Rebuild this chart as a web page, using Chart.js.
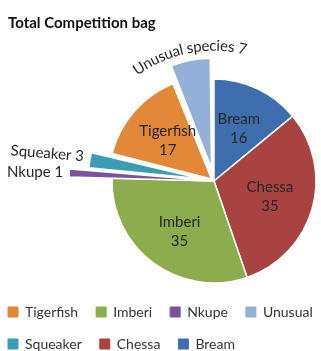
<!DOCTYPE html>
<html>
<head>
<meta charset="utf-8">
<script src="https://cdn.jsdelivr.net/npm/chart.js@4.4.1/dist/chart.umd.min.js"></script>
<style>
  html, body { margin: 0; padding: 0; background: #fff; }
  #wrap { position: relative; width: 321px; height: 351px; }
</style>
</head>
<body>
<div id="wrap"><canvas id="chart"></canvas></div>
<script>
// slices, clockwise from 12 o'clock
const species = ["Bream", "Chessa", "Imberi", "Nkupe", "Squeaker", "Tigerfish", "Unusual"];
const catchCounts = [16, 35, 35, 1, 3, 17, 7];
const sliceText = ["Bream", "Chessa", "Imberi", "Nkupe", "Squeaker", "Tigerfish", "Unusual species"];
// legend reads in a different order than the slices
const legendOrder = ["Tigerfish", "Imberi", "Nkupe", "Unusual", "Squeaker", "Chessa", "Bream"];

// look
const sliceColors = ["#3E6EAD", "#A84341", "#8CAC4D", "#7A539F", "#3B9DB5", "#E38839", "#95B0D8"];
const explode = [0, 0, 0, 0, 52, 13, 52];
const stretch = [0, 0, 0, 43, 0, 0, 0];   // Nkupe is too thin to explode, make it longer instead
const labelPlace = ["inside", "inside", "inside", "left", "left", "inside", "arc"];
const pieCenter = { x: 214, y: 181 };
const pieRadius = 102;
const FONT = "Lato";

// put the pie where it sits in the picture, pull legend to the left edge
const placePie = {
  id: "placePie",
  afterLayout(chart) {
    chart.chartArea = {
      left: pieCenter.x - pieRadius,
      right: pieCenter.x + pieRadius,
      top: pieCenter.y - pieRadius,
      bottom: pieCenter.y + pieRadius,
      width: 2 * pieRadius,
      height: 2 * pieRadius
    };
    chart.legend.left -= chart.legend.options.labels.padding;
  },
  afterDatasetsUpdate(chart) {
    chart.getDatasetMeta(0).data.forEach((arc, i) => {
      arc.outerRadius += stretch[i];
    });
  }
};

function arcText(ctx, text, cx, cy, r, mid) {
  const total = ctx.measureText(text).width;
  let a = mid - total / 2 / r;
  for (const ch of text) {
    const w = ctx.measureText(ch).width;
    const ang = a + w / 2 / r;
    ctx.save();
    ctx.translate(cx + Math.cos(ang) * r, cy + Math.sin(ang) * r);
    ctx.rotate(ang + Math.PI / 2);
    ctx.fillText(ch, 0, 0);
    ctx.restore();
    a += w / r;
  }
}

const sliceLabels = {
  id: "sliceLabels",
  afterDatasetsDraw(chart) {
    const ctx = chart.ctx;
    const meta = chart.getDatasetMeta(0);
    ctx.save();
    ctx.fillStyle = "#262626";
    ctx.font = "15px " + FONT;
    ctx.textBaseline = "middle";
    meta.data.forEach((arc, i) => {
      const p = arc.getProps(["x", "y", "startAngle", "endAngle", "outerRadius"], true);
      const mid = (p.startAngle + p.endAngle) / 2;
      // how the arc element moves an exploded slice: shift + a bit more radius
      const shift = explode[i] / 4;
      const grow = shift * (1 - Math.sin(Math.min(Math.PI, p.endAngle - p.startAngle)));
      const cx = p.x + Math.cos(mid) * shift;
      const cy = p.y + Math.sin(mid) * shift;
      const rOut = p.outerRadius + grow;
      const val = catchCounts[i];
      if (labelPlace[i] === "inside") {
        const r = p.outerRadius * 0.57;
        const lx = cx + Math.cos(mid) * r;
        const ly = cy + Math.sin(mid) * r + (i === 2 ? 4 : 0);
        ctx.textAlign = "center";
        ctx.fillText(sliceText[i], lx, ly - 9.5);
        ctx.fillText(String(val), lx, ly + 9.5);
      } else if (labelPlace[i] === "left") {
        const ex = cx + Math.cos(mid) * rOut;
        const ey = cy + Math.sin(mid) * rOut;
        ctx.save();
        ctx.translate(ex - 6, ey - (i === 4 ? 4 : 1));
        if (i === 4) ctx.rotate(0.08);
        ctx.textAlign = "right";
        ctx.fillText(sliceText[i] + " " + val, 0, 0);
        ctx.restore();
      } else {
        ctx.textAlign = "center";
        arcText(ctx, sliceText[i] + " " + val, p.x, p.y, rOut + shift + 12, mid);
      }
    });
    ctx.restore();
  }
};

const baseLabels = Chart.overrides.doughnut.plugins.legend.labels.generateLabels;

new Chart(document.getElementById("chart"), {
  type: "pie",
  data: {
    labels: species,
    datasets: [{
      data: catchCounts,
      backgroundColor: sliceColors,
      borderColor: "#ffffff",
      borderWidth: 1.5,
      offset: explode,
      radius: pieRadius,
      clip: false
    }]
  },
  options: {
    responsive: true,
    maintainAspectRatio: false,
    animation: false,
    layout: { padding: { top: 4, left: 8, right: -40, bottom: -10 } },
    plugins: {
      tooltip: { enabled: false },
      title: {
        display: true,
        text: "Total Competition bag",
        align: "start",
        color: "#111111",
        font: { family: FONT, size: 15, weight: "bold" },
        padding: { top: 10, bottom: 0 }
      },
      legend: {
        position: "bottom",
        align: "start",
        labels: {
          color: "#333333",
          font: { family: FONT, size: 14 },
          boxWidth: 10,
          boxHeight: 10,
          padding: 18,
          sort: (a, b) => legendOrder.indexOf(a.text) - legendOrder.indexOf(b.text),
          generateLabels(chart) {
            return baseLabels(chart).map(item => {
              item.strokeStyle = item.fillStyle;
              item.lineWidth = 1;
              return item;
            });
          }
        }
      }
    }
  },
  plugins: [placePie, sliceLabels]
});
</script>
</body>
</html>
